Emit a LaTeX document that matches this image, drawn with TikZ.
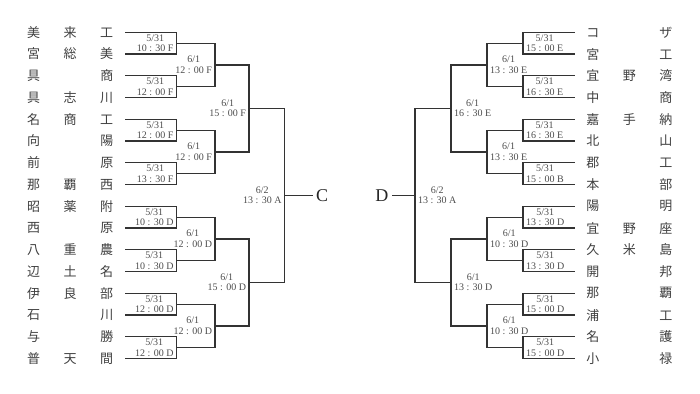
\documentclass[tikz,border=0pt]{standalone}
\usepackage{fontspec}
\setmainfont{Liberation Serif}
\newfontfamily\jpfont{Noto Sans CJK JP}
\usetikzlibrary{calc}
\newcommand{\school}[3]{{\jpfont\makebox[36.5pt]{#1}\makebox[36.5pt]{#2}\makebox[36.5pt]{#3}}}

\begin{document}
\begin{tikzpicture}[x=1pt,y=-1pt,node distance=21.75pt]
        \tikzstyle{team} = [inner sep=0pt, outer sep=0pt, text=black!75, font=\fontsize{13}{14}\selectfont]
        \tikzstyle{game} = [inner xsep=3pt, inner ysep=0pt, outer sep=0pt, align=center, text=black!70, font=\fontsize{10}{10.5}\selectfont]
        \tikzstyle{final} = [text=black!85, font=\fontsize{18}{18}\selectfont]
        \tikzstyle{line} = [draw=black!80, line width=1.2pt]
        \useasboundingbox (0,0) rectangle (700,393);

        % Nodes (left)
        \node[team] (l1) at (70.25,32.3) {\school{美}{来}{工}};
        \node[team, below of=l1] (l2) {\school{宮}{総}{美}};
        \node[team, below of=l2] (l3) {\school{具}{}{商}};
        \node[team, below of=l3] (l4) {\school{具}{志}{川}};
        \node[team, below of=l4] (l5) {\school{名}{商}{工}};
        \node[team, below of=l5] (l6) {\school{向}{}{陽}};
        \node[team, below of=l6] (l7) {\school{前}{}{原}};
        \node[team, below of=l7] (l8) {\school{那}{覇}{西}};
        \node[team, below of=l8] (l9) {\school{昭}{薬}{附}};
        \node[team, below of=l9] (l10) {\school{西}{}{原}};
        \node[team, below of=l10] (l11) {\school{八}{重}{農}};
        \node[team, below of=l11] (l12) {\school{辺}{土}{名}};
        \node[team, below of=l12] (l13) {\school{伊}{良}{部}};
        \node[team, below of=l13] (l14) {\school{石}{}{川}};
        \node[team, below of=l14] (l15) {\school{与}{}{勝}};
        \node[team, below of=l15] (l16) {\school{普}{天}{間}};

        \node[game, left] (la1) at ($(l1.east)!0.5!(l2.east)+(51.5,0)$) {5/31\\10 : 30 F};
        \node[game, left] (la2) at ($(l3.east)!0.5!(l4.east)+(51.5,0)$) {5/31\\12 : 00 F};
        \node[game, left] (la3) at ($(l5.east)!0.5!(l6.east)+(51.5,0)$) {5/31\\12 : 00 F};
        \node[game, left] (la4) at ($(l7.east)!0.5!(l8.east)+(51.5,0)$) {5/31\\13 : 30 F};
        \node[game, left] (la5) at ($(l9.east)!0.5!(l10.east)+(51.5,0)$) {5/31\\10 : 30 D};
        \node[game, left] (la6) at ($(l11.east)!0.5!(l12.east)+(51.5,0)$) {5/31\\10 : 30 D};
        \node[game, left] (la7) at ($(l13.east)!0.5!(l14.east)+(51.5,0)$) {5/31\\12 : 00 D};
        \node[game, left] (la8) at ($(l15.east)!0.5!(l16.east)+(51.5,0)$) {5/31\\12 : 00 D};
        \node[game, left] (lb1) at ($(la1.east)!0.5!(la2.east)+(38.5,0)$) {6/1\\12 : 00 F};
        \node[game, left] (lb2) at ($(la3.east)!0.5!(la4.east)+(38.5,0)$) {6/1\\12 : 00 F};
        \node[game, left] (lb3) at ($(la5.east)!0.5!(la6.east)+(38.5,0)$) {6/1\\12 : 00 D};
        \node[game, left] (lb4) at ($(la7.east)!0.5!(la8.east)+(38.5,0)$) {6/1\\12 : 00 D};
        \node[game, left] (lc1) at ($(lb1.east)!0.5!(lb2.east)+(34,0)$) {6/1\\15 : 00 F};
        \node[game, left] (lc2) at ($(lb3.east)!0.5!(lb4.east)+(34,0)$) {6/1\\15 : 00 D};
        \node[game, left] (lf) at ($(lc1.east)!0.5!(lc2.east)+(35.5,0)$) {6/2\\13 : 30 A};
        \node[final, right] (cc) at ($(lf.east)+(28,0)$) {C};

        % Nodes (right)
        \node[team] (r1) at (629.25,32.3) {\school{コ}{}{ザ}};
        \node[team, below of=r1] (r2) {\school{宮}{}{工}};
        \node[team, below of=r2] (r3) {\school{宜}{野}{湾}};
        \node[team, below of=r3] (r4) {\school{中}{}{商}};
        \node[team, below of=r4] (r5) {\school{嘉}{手}{納}};
        \node[team, below of=r5] (r6) {\school{北}{}{山}};
        \node[team, below of=r6] (r7) {\school{郡}{}{工}};
        \node[team, below of=r7] (r8) {\school{本}{}{部}};
        \node[team, below of=r8] (r9) {\school{陽}{}{明}};
        \node[team, below of=r9] (r10) {\school{宜}{野}{座}};
        \node[team, below of=r10] (r11) {\school{久}{米}{島}};
        \node[team, below of=r11] (r12) {\school{開}{}{邦}};
        \node[team, below of=r12] (r13) {\school{那}{}{覇}};
        \node[team, below of=r13] (r14) {\school{浦}{}{工}};
        \node[team, below of=r14] (r15) {\school{名}{}{護}};
        \node[team, below of=r15] (r16) {\school{小}{}{禄}};

        \node[game, right] (ra1) at ($(r1.west)!0.5!(r2.west)+(-51.5,0)$) {5/31\\15 : 00 E};
        \node[game, right] (ra2) at ($(r3.west)!0.5!(r4.west)+(-51.5,0)$) {5/31\\16 : 30 E};
        \node[game, right] (ra3) at ($(r5.west)!0.5!(r6.west)+(-51.5,0)$) {5/31\\16 : 30 E};
        \node[game, right] (ra4) at ($(r7.west)!0.5!(r8.west)+(-51.5,0)$) {5/31\\15 : 00 B};
        \node[game, right] (ra5) at ($(r9.west)!0.5!(r10.west)+(-51.5,0)$) {5/31\\13 : 30 D};
        \node[game, right] (ra6) at ($(r11.west)!0.5!(r12.west)+(-51.5,0)$) {5/31\\13 : 30 D};
        \node[game, right] (ra7) at ($(r13.west)!0.5!(r14.west)+(-51.5,0)$) {5/31\\15 : 00 D};
        \node[game, right] (ra8) at ($(r15.west)!0.5!(r16.west)+(-51.5,0)$) {5/31\\15 : 00 D};
        \node[game, right] (rb1) at ($(ra1.west)!0.5!(ra2.west)+(-36,0)$) {6/1\\13 : 30 E};
        \node[game, right] (rb2) at ($(ra3.west)!0.5!(ra4.west)+(-36,0)$) {6/1\\13 : 30 E};
        \node[game, right] (rb3) at ($(ra5.west)!0.5!(ra6.west)+(-36,0)$) {6/1\\10 : 30 D};
        \node[game, right] (rb4) at ($(ra7.west)!0.5!(ra8.west)+(-36,0)$) {6/1\\10 : 30 D};
        \node[game, right] (rc1) at ($(rb1.west)!0.5!(rb2.west)+(-36,0)$) {6/1\\16 : 30 E};
        \node[game, right] (rc2) at ($(rb3.west)!0.5!(rb4.west)+(-36,0)$) {6/1\\13 : 30 D};
        \node[game, right] (rf) at ($(rc1.west)!0.5!(rc2.west)+(-36,0)$) {6/2\\13 : 30 A};
        \node[final, left] (dd) at ($(rf.west)+(-23,0)$) {D};

        % Edges (left)
        \draw[line] (l1.east) -| (la1.east) |- (l2.east);
        \draw[line] (l3.east) -| (la2.east) |- (l4.east);
        \draw[line] (l5.east) -| (la3.east) |- (l6.east);
        \draw[line] (l7.east) -| (la4.east) |- (l8.east);
        \draw[line] (l9.east) -| (la5.east) |- (l10.east);
        \draw[line] (l11.east) -| (la6.east) |- (l12.east);
        \draw[line] (l13.east) -| (la7.east) |- (l14.east);
        \draw[line] (l15.east) -| (la8.east) |- (l16.east);
        \draw[line] (la1.east) -| (lb1.east) |- (la2.east);
        \draw[line] (la3.east) -| (lb2.east) |- (la4.east);
        \draw[line] (la5.east) -| (lb3.east) |- (la6.east);
        \draw[line] (la7.east) -| (lb4.east) |- (la8.east);
        \draw[line] (lb1.east) -| (lc1.east) |- (lb2.east);
        \draw[line] (lb3.east) -| (lc2.east) |- (lb4.east);
        \draw[line] (lc1.east) -| (lf.east) |- (lc2.east);
        \draw[line] (lf.east) -- (cc.west);

        % Edges (right)
        \draw[line] (r1.west) -| (ra1.west) |- (r2.west);
        \draw[line] (r3.west) -| (ra2.west) |- (r4.west);
        \draw[line] (r5.west) -| (ra3.west) |- (r6.west);
        \draw[line] (r7.west) -| (ra4.west) |- (r8.west);
        \draw[line] (r9.west) -| (ra5.west) |- (r10.west);
        \draw[line] (r11.west) -| (ra6.west) |- (r12.west);
        \draw[line] (r13.west) -| (ra7.west) |- (r14.west);
        \draw[line] (r15.west) -| (ra8.west) |- (r16.west);
        \draw[line] (ra1.west) -| (rb1.west) |- (ra2.west);
        \draw[line] (ra3.west) -| (rb2.west) |- (ra4.west);
        \draw[line] (ra5.west) -| (rb3.west) |- (ra6.west);
        \draw[line] (ra7.west) -| (rb4.west) |- (ra8.west);
        \draw[line] (rb1.west) -| (rc1.west) |- (rb2.west);
        \draw[line] (rb3.west) -| (rc2.west) |- (rb4.west);
        \draw[line] (rc1.west) -| (rf.west) |- (rc2.west);
        \draw[line] (rf.west) -- (dd.east);
\end{tikzpicture}
\end{document}
